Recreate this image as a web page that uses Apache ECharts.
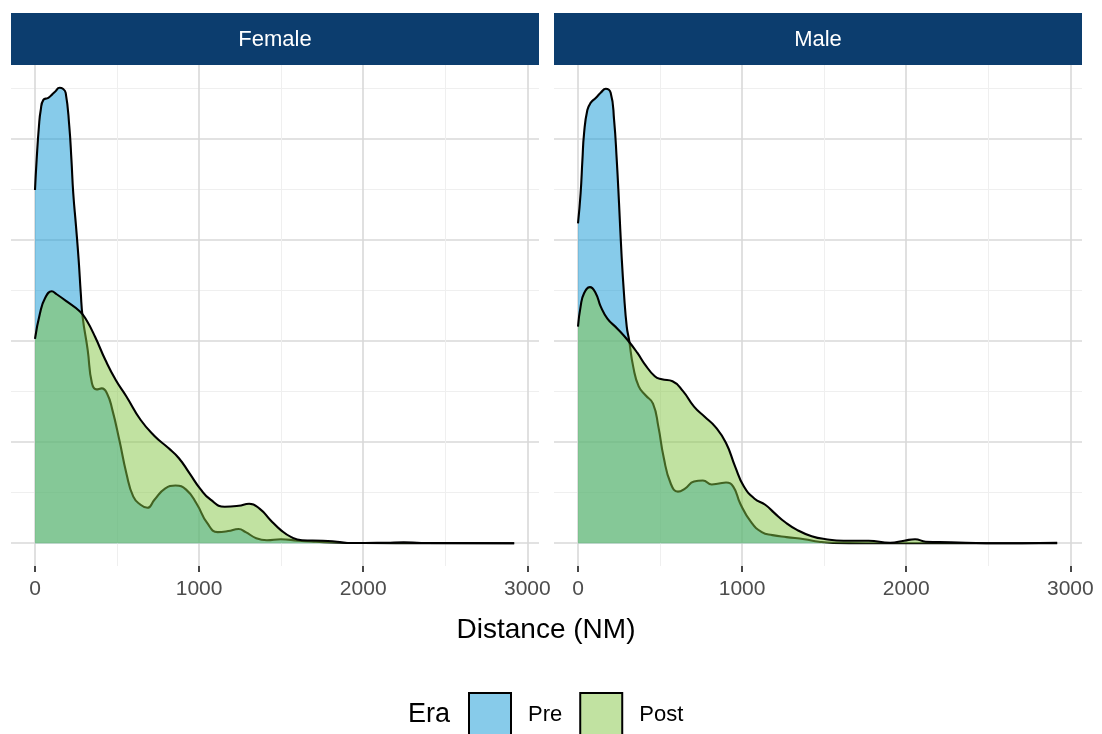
<!DOCTYPE html>
<html>
<head>
<meta charset="utf-8">
<script src="https://cdn.jsdelivr.net/npm/echarts@6/dist/echarts.min.js"></script>
<style>
  html, body { margin: 0; padding: 0; background: #fff; }
  #chart { width: 1102px; height: 734px; }
</style>
</head>
<body>
<div id="chart"></div>
<script>
// 面板与图例
var panels = ['Female', 'Male'];
var eras = ['Pre', 'Post'];
var xTicks = [0, 1000, 2000, 3000];
var yTicks = [0, 1, 2, 3, 4];

// Female - Pre
var femalePreX = [0, 10, 24, 35, 51, 81, 102, 122, 150, 170, 187, 209, 222, 233, 250, 266, 279, 290, 321, 347, 375, 407, 439, 471, 514, 557, 599, 643, 685, 728, 792, 856, 921, 985, 1049, 1113, 1177, 1241, 1284, 1348, 1413, 1498, 1605, 1712, 1850, 2000, 2400, 2920];
var femalePreY = [3.49, 3.79, 4.12, 4.28, 4.38, 4.40, 4.43, 4.46, 4.50, 4.49, 4.45, 4.12, 3.79, 3.46, 3.13, 2.80, 2.47, 2.24, 1.91, 1.58, 1.52, 1.53, 1.48, 1.32, 1.02, 0.69, 0.46, 0.38, 0.35, 0.43, 0.54, 0.57, 0.53, 0.39, 0.20, 0.11, 0.12, 0.14, 0.11, 0.05, 0.03, 0.04, 0.025, 0.015, 0.005, 0.002, 0.001, 0.0];
// Female - Post
var femalePostX = [0, 30, 61, 102, 132, 193, 274, 315, 366, 429, 493, 557, 643, 728, 813, 877, 942, 1006, 1070, 1156, 1241, 1305, 1370, 1434, 1498, 1562, 1627, 1755, 1840, 1926, 2140, 2247, 2354, 2920];
var femalePostY = [2.02, 2.27, 2.42, 2.49, 2.46, 2.39, 2.29, 2.20, 2.04, 1.81, 1.61, 1.45, 1.22, 1.06, 0.94, 0.84, 0.69, 0.54, 0.43, 0.36, 0.37, 0.39, 0.34, 0.23, 0.13, 0.06, 0.03, 0.025, 0.015, 0.002, 0.005, 0.009, 0.002, 0.0];
// Male - Pre
var malePreX = [0, 16, 27, 37, 57, 77, 108, 138, 169, 199, 220, 236, 250, 265, 280, 297, 311, 337, 370, 413, 457, 490, 522, 565, 609, 652, 707, 761, 815, 859, 902, 946, 989, 1054, 1120, 1185, 1271, 1380, 1467, 1554, 1750, 2200, 2920];
var malePreY = [3.16, 3.46, 3.79, 4.05, 4.28, 4.35, 4.40, 4.45, 4.49, 4.45, 4.18, 3.79, 3.36, 2.86, 2.47, 2.14, 2.01, 1.74, 1.55, 1.46, 1.38, 1.15, 0.85, 0.59, 0.51, 0.54, 0.61, 0.62, 0.58, 0.59, 0.60, 0.56, 0.39, 0.21, 0.11, 0.08, 0.06, 0.04, 0.015, 0.003, 0.0, 0.0, 0.0];
// Male - Post
var malePostX = [0, 16, 37, 73, 108, 138, 179, 240, 301, 362, 402, 468, 511, 576, 641, 707, 772, 837, 902, 957, 1011, 1076, 1141, 1196, 1261, 1337, 1424, 1511, 1619, 1771, 1902, 1988, 2054, 2119, 2271, 2488, 2920];
var malePostY = [2.14, 2.34, 2.47, 2.53, 2.47, 2.34, 2.22, 2.12, 2.01, 1.88, 1.78, 1.65, 1.62, 1.60, 1.50, 1.35, 1.25, 1.15, 0.99, 0.76, 0.56, 0.44, 0.38, 0.30, 0.21, 0.13, 0.07, 0.04, 0.025, 0.025, 0.005, 0.025, 0.04, 0.015, 0.01, 0.0, 0.005];

var seriesData = [
  [[femalePreX, femalePreY], [femalePostX, femalePostY]],
  [[malePreX, malePreY], [malePostX, malePostY]]
];

function zip(xs, ys) {
  var out = [];
  for (var i = 0; i < xs.length; i++) {
    out.push([xs[i], ys[i]]);
  }
  return out;
}

var fillColor = ['rgba(15, 151, 213, 0.5)', 'rgba(131, 197, 67, 0.5)'];
var keyColor = ['#87cbea', '#c1e2a1'];
var gridLefts = [11, 554];
var panelW = 528;
var font = '"Liberation Sans", Arial, Helvetica, sans-serif';

var chart = echarts.init(document.getElementById('chart'), null, {renderer: 'canvas'});

var grids = [], xAxes = [], yAxes = [], series = [], graphics = [];

for (var p = 0; p < panels.length; p++) {
  grids.push({left: gridLefts[p], top: 65, width: panelW, height: 501, containLabel: false});
  xAxes.push({
    type: 'value',
    gridIndex: p,
    min: -146.25,
    max: 3071.25,
    splitNumber: 3,
    axisLine: {show: false, onZero: false},
    axisTick: {show: true, length: 6, customValues: xTicks, lineStyle: {color: '#333', width: 1.8}},
    axisLabel: {
      show: true,
      customValues: xTicks,
      margin: 13,
      color: '#4d4d4d',
      fontSize: 21,
      fontFamily: font,
      formatter: function (v) { return xTicks.indexOf(v) >= 0 ? String(v) : ''; }
    },
    splitLine: {show: true, lineStyle: {color: '#d9d9d9', width: 1.6}},
    minorTick: {show: false, splitNumber: 2},
    minorSplitLine: {show: true, lineStyle: {color: '#efefef', width: 1}}
  });
  yAxes.push({
    type: 'value',
    gridIndex: p,
    min: -0.225,
    max: 4.725,
    splitNumber: 5,
    axisLine: {show: false},
    axisTick: {show: false, customValues: yTicks},
    axisLabel: {show: false},
    splitLine: {show: true, lineStyle: {color: '#d9d9d9', width: 1.6}},
    minorTick: {show: false, splitNumber: 2},
    minorSplitLine: {show: true, lineStyle: {color: '#efefef', width: 1}}
  });
  for (var e = 0; e < eras.length; e++) {
    series.push({
      name: eras[e],
      type: 'line',
      xAxisIndex: p,
      yAxisIndex: p,
      data: zip(seriesData[p][e][0], seriesData[p][e][1]),
      smooth: 0.5,
      showSymbol: false,
      symbol: 'none',
      silent: true,
      lineStyle: {color: '#000', width: 2.1},
      areaStyle: {color: fillColor[e], opacity: 1, origin: 0},
      z: 2 + e
    });
  }
  // 分面标题条
  graphics.push({
    type: 'rect',
    shape: {x: gridLefts[p], y: 13, width: panelW, height: 52},
    style: {fill: '#0c3d6e'},
    z: 10
  });
  graphics.push({
    type: 'text',
    x: gridLefts[p] + panelW / 2,
    y: 40,
    style: {text: panels[p], fill: '#fff', font: '22px ' + font, textAlign: 'center', textVerticalAlign: 'middle'},
    z: 11
  });
}

graphics.push({
  type: 'text',
  x: 546,
  y: 630,
  style: {text: 'Distance (NM)', fill: '#000', font: '28px ' + font, textAlign: 'center', textVerticalAlign: 'middle'}
});
graphics.push({
  type: 'text',
  x: 408,
  y: 715,
  style: {text: 'Era', fill: '#000', font: '27px ' + font, textAlign: 'left', textVerticalAlign: 'middle'}
});

var option = {
  backgroundColor: '#fff',
  animation: false,
  grid: grids,
  xAxis: xAxes,
  yAxis: yAxes,
  legend: {
    left: 468,
    top: 692,
    padding: 0,
    itemWidth: 42,
    itemHeight: 44,
    itemGap: 17,
    selectedMode: false,
    textStyle: {color: '#000', fontSize: 22, fontFamily: font, padding: [0, 0, 0, 12]},
    data: eras.map(function (name, i) {
      return {name: name, icon: 'rect', itemStyle: {color: keyColor[i], borderColor: '#000', borderWidth: 2}};
    })
  },
  graphic: graphics,
  series: series
};

chart.setOption(option);
window.onresize = function () { chart.resize(); };
</script>
</body>
</html>
